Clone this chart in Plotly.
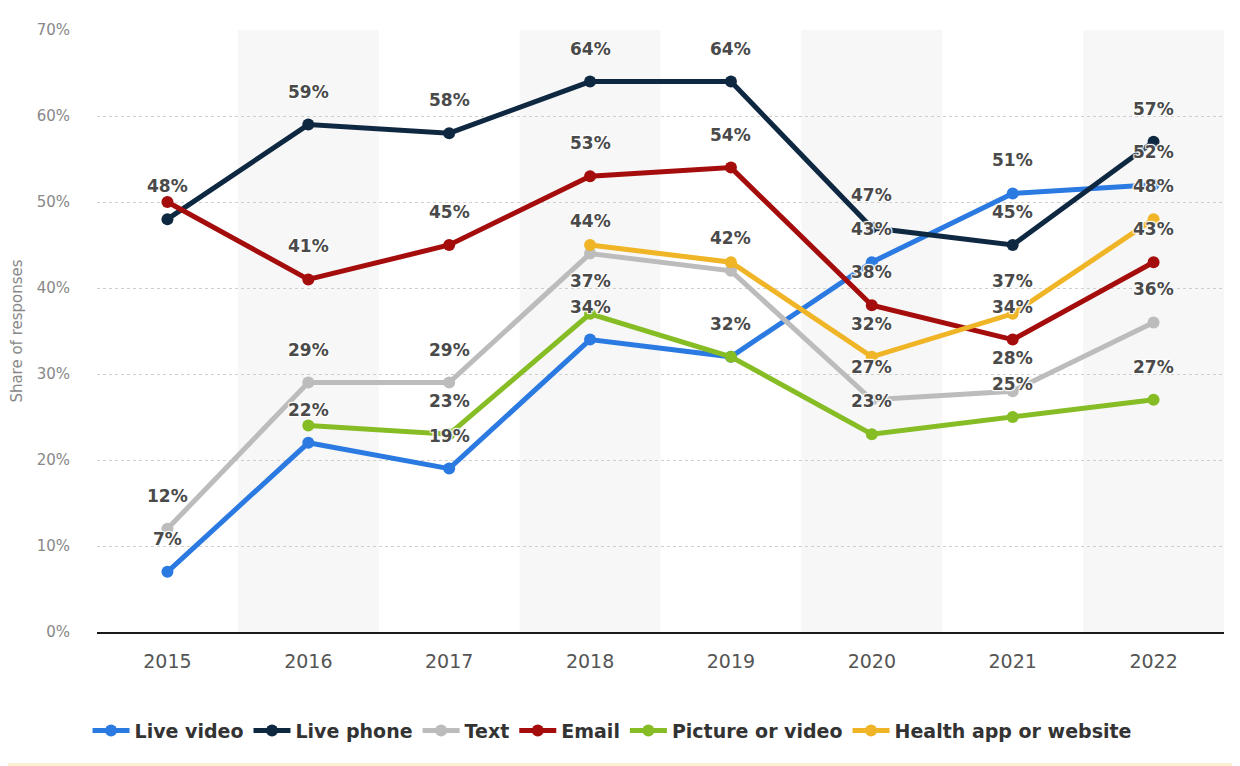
import plotly.graph_objects as go

years = [2015, 2016, 2017, 2018, 2019, 2020, 2021, 2022]

live_video = [7, 22, 19, 34, 32, 43, 51, 52]
live_phone = [48, 59, 58, 64, 64, 47, 45, 57]
text = [12, 29, 29, 44, 42, 27, 28, 36]
email = [50, 41, 45, 53, 54, 38, 34, 43]
picture_video = [None, 24, 23, 37, 32, 23, 25, 27]
health_app = [None, None, None, 45, 43, 32, 37, 48]

names = ["Live video", "Live phone", "Text", "Email", "Picture or video", "Health app or website"]
colors = ["#2a7ae2", "#0f2841", "#bcbcbc", "#a50c0c", "#86bc24", "#efb526"]
series = [live_video, live_phone, text, email, picture_video, health_app]

FONT = "DejaVu Sans"

fig = go.Figure()

# alternating column background
for i, yr in enumerate(years):
    if i % 2 == 1:
        fig.add_shape(type="rect", xref="x", yref="paper", x0=yr - 0.5, x1=yr + 0.5, y0=0, y1=1,
                      fillcolor="#f7f7f7", line_width=0, layer="below")

for name, col, vals in zip(names, colors, series):
    fig.add_trace(go.Scatter(x=years, y=vals, name=name, mode="lines+markers",
                             line=dict(color=col, width=5),
                             marker=dict(color=col, size=12),
                             hoverinfo="skip"))

# data labels, lower ones win when two are too close (like the original)
halo = "1px 1px 1px white, -1px -1px 1px white, 1px -1px 1px white, -1px 1px 1px white"
for i, yr in enumerate(years):
    pts = sorted([s[i] for s in series if s[i] is not None])
    last = None
    for v in pts:
        if last is not None and v - last < 3:
            continue
        last = v
        fig.add_annotation(x=yr, y=v, text=f"{v}%", showarrow=False, yshift=33,
                           yanchor="middle",
                           font=dict(family=FONT, size=17, color="#4a4a4a",
                                     weight="bold", shadow=halo))

# thin pale strip at the bottom of the page
fig.add_shape(type="rect", xref="paper", yref="paper", x0=-0.1, x1=1.1, y0=-0.24, y1=-0.2176,
              fillcolor="#fbf0d2", line_width=0, layer="below")

fig.update_layout(
    width=1232, height=758,
    margin=dict(l=89, r=16, t=22, b=134),
    plot_bgcolor="white", paper_bgcolor="white",
    font=dict(family=FONT, color="#555555"),
    showlegend=True,
    legend=dict(orientation="h", x=0.457, xanchor="center", y=-0.164, yanchor="middle",
                font=dict(family=FONT, size=19, color="#333333", weight="bold"),
                itemwidth=37, tracegroupgap=0),
    xaxis=dict(range=[2014.5, 2022.5], tickvals=years, showgrid=False, zeroline=False,
               showline=True, linecolor="#1a1a1a", linewidth=1.5,
               ticks="outside", ticklen=11, tickcolor="rgba(0,0,0,0)",
               tickfont=dict(size=19, color="#555555"), fixedrange=True, automargin=False),
    yaxis=dict(range=[0, 70], dtick=10, ticksuffix="%", showgrid=True, gridcolor="#cfcfcf",
               griddash="dot", zeroline=False,
               ticks="outside", ticklen=23, tickcolor="rgba(0,0,0,0)",
               tickfont=dict(size=15, color="#888888"),
               title=dict(text="Share of responses", font=dict(size=15, color="#888888"), standoff=16),
               fixedrange=True, automargin=False),
)

fig.write_html("out.html")
